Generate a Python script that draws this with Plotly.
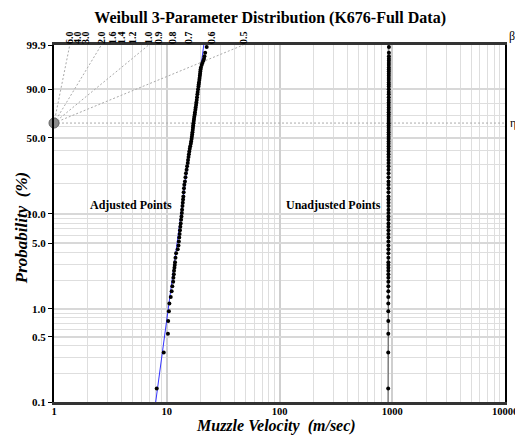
import numpy as np
import plotly.graph_objects as go

TITLE = "Weibull 3-Parameter Distribution (K676-Full Data)"

# Adjusted points (velocity minus location parameter) and their plotted probabilities (%)
ADJ_PROB = [0.14, 0.34, 0.54, 0.74, 0.94, 1.14, 1.34, 1.54, 1.74, 1.94, 2.14, 2.34, 2.54, 2.74,
            2.94, 3.14, 3.5, 3.9, 4.3, 4.7, 5.2, 5.7, 6.2, 6.8, 7.4, 8.0, 8.7, 9.4, 10.2, 11.0,
            12, 13, 14, 15, 16.5, 18, 19.5, 21, 23, 25, 27, 29, 31, 33, 35, 37, 39, 41, 43, 45,
            47, 49, 51, 53, 55, 57, 59, 61, 63, 65, 67, 69, 71, 73, 75, 77, 79, 81, 83, 85, 87,
            88.5, 90, 91.5, 92.5, 93.5, 94.5, 95.3, 96, 96.6, 97.2, 97.7, 98.1, 98.5, 98.8,
            99.06, 99.26, 99.46, 99.66, 99.86]
ADJ_VEL = [8.15, 9.4, 10.25, 10.3, 10.45, 10.55, 10.85, 11.05, 11.2, 11.4, 11.45, 11.55, 11.6,
           11.7, 11.78, 11.84, 11.95, 12.1, 12.5, 12.7, 12.8, 12.9, 13.0, 13.1, 13.2, 13.3, 13.4,
           13.5, 13.6, 13.68, 13.78, 13.87, 13.95, 14.03, 14.12, 14.22, 14.32, 14.5, 14.65, 14.8,
           15.0, 15.15, 15.35, 15.45, 15.6, 15.72, 15.85, 16.0, 16.15, 16.35, 16.45, 16.6, 16.7,
           16.8, 16.9, 17.0, 17.08, 17.15, 17.25, 17.35, 17.45, 17.55, 17.7, 17.8, 17.95, 18.05,
           18.2, 18.3, 18.45, 18.55, 18.7, 18.82, 18.95, 19.1, 19.2, 19.3, 19.45, 19.55, 19.65,
           19.75, 19.85, 19.95, 20.1, 20.4, 20.7, 21.1, 21.4, 21.6, 21.9, 22.6]
GAMMA = 912.0  # location parameter (m/sec)

# Fitted line end points
FIT_PROB = [0.1, 99.9]
FIT_VEL = [7.98, 21.3]

# Beta estimation scale (top axis)
BETA_TICKS = [6.0, 4.0, 3.0, 2.0, 1.6, 1.4, 1.2, 1.0, 0.9, 0.8, 0.7, 0.6, 0.5]
BETA_FAN = [6.0, 2.0, 1.0, 0.5]

X_TICKS = [1, 10, 100, 1000, 10000]
Y_MAJOR = [0.1, 0.5, 1.0, 5.0, 10.0, 50.0, 90.0, 99.9]
Y_MINOR = [0.2, 0.3, 0.4, 0.6, 0.7, 0.8, 0.9, 2, 3, 4, 6, 7, 8, 9, 20, 30, 40, 60, 70, 80]


def wscale(p):
    p = np.asarray(p, dtype=float) / 100.0
    return np.log(-np.log(1.0 - p))


SERIF = "Liberation Serif, Times New Roman, serif"
wtop = float(wscale(99.9))
wbot = float(wscale(0.1))

adj_vel = np.array(ADJ_VEL)
unadj_vel = adj_vel + GAMMA

fig = go.Figure()

# beta fan lines
for b in BETA_FAN:
    fig.add_trace(go.Scatter(x=[1, np.exp(wtop / b)], y=[0, wtop], mode="lines",
                             line=dict(color="#aaaaaa", width=1, dash="2px,2px"),
                             hoverinfo="skip", showlegend=False))
# eta line
fig.add_trace(go.Scatter(x=[1, 10000], y=[0, 0], mode="lines",
                         line=dict(color="#aaaaaa", width=1, dash="2px,2px"),
                         hoverinfo="skip", showlegend=False))

# fit lines
fig.add_trace(go.Scatter(x=FIT_VEL, y=wscale(FIT_PROB), mode="lines",
                         line=dict(color="#3333ff", width=1), showlegend=False))
fig.add_trace(go.Scatter(x=np.array(FIT_VEL) + GAMMA, y=wscale(FIT_PROB), mode="lines",
                         line=dict(color="#555555", width=1), showlegend=False))

# points
fig.add_trace(go.Scatter(x=adj_vel, y=wscale(ADJ_PROB), mode="markers",
                         marker=dict(color="black", size=4), showlegend=False))
fig.add_trace(go.Scatter(x=unadj_vel, y=wscale(ADJ_PROB), mode="markers",
                         marker=dict(color="black", size=4), showlegend=False))

# pivot
fig.add_trace(go.Scatter(x=[1], y=[0], mode="markers", cliponaxis=False,
                         marker=dict(color="#8c8c8c", size=10, line=dict(color="#666", width=1)),
                         showlegend=False))

# invisible trace for the top beta axis
fig.add_trace(go.Scatter(x=[1, 10000], y=[0, 0], xaxis="x2", mode="markers",
                         marker=dict(opacity=0), hoverinfo="skip", showlegend=False))

tickfont = dict(family=SERIF, size=11, color="black")

# the page body adds an 8px offset, so the figure is sized to fit the window
fig.update_layout(
    width=515, height=428,
    margin=dict(l=46, r=18, t=37, b=34, autoexpand=False),
    paper_bgcolor="white", plot_bgcolor="white",
    title=dict(text="<b>" + TITLE + "</b>", x=0.509, xanchor="center", y=0.977, yanchor="middle",
               font=dict(family=SERIF, size=16, color="black")),
    xaxis=dict(type="log", range=[0, 4], tickmode="array", tickvals=X_TICKS,
               ticktext=["<b>%d</b>" % v for v in X_TICKS],
               tickfont=dict(family=SERIF, size=10.5, color="black"),
               ticklabelstandoff=-2,
               showgrid=True, gridcolor="#cfcfcf", gridwidth=1.5,
               showline=True, linecolor="#333", linewidth=2.5, mirror=True,
               ticks="",
               minor=dict(tickmode="array",
                          tickvals=[m * 10 ** d for d in range(4) for m in range(2, 10)],
                          showgrid=True, gridcolor="#dedede", gridwidth=1, ticks=""),
               zeroline=False),
    xaxis2=dict(type="log", range=[0, 4], overlaying="x", side="top", anchor="y",
                tickmode="array", tickvals=[np.exp(wtop / b) for b in BETA_TICKS],
                ticktext=["<b>%.1f</b>" % b for b in BETA_TICKS], tickangle=-90,
                tickfont=dict(family=SERIF, size=10, color="black"),
                showgrid=False, ticks="", showline=False, zeroline=False),
    yaxis=dict(range=[wbot, wtop], tickmode="array", tickvals=wscale(Y_MAJOR),
               ticktext=["<b>%.1f</b>" % v for v in Y_MAJOR], tickfont=tickfont,
               showgrid=True, gridcolor="#d8d8d8", gridwidth=1.5,
               showline=True, linecolor="black", linewidth=2, mirror=True,
               ticks="outside", ticklen=4, tickcolor="black",
               minor=dict(tickmode="array", tickvals=wscale(Y_MINOR),
                          showgrid=True, gridcolor="#dedede", gridwidth=1, ticks=""),
               zeroline=False),
    annotations=[
        dict(text="<b>Adjusted Points</b>", x=np.log10(4.8), y=float(wscale(12.3)),
             xref="x", yref="y", showarrow=False,
             font=dict(family=SERIF, size=12, color="black")),
        dict(text="<b>Unadjusted Points</b>", x=np.log10(300), y=float(wscale(12.3)),
             xref="x", yref="y", showarrow=False,
             font=dict(family=SERIF, size=12, color="black")),
        dict(text="<b><i>Muzzle Velocity  (m/sec)</i></b>", x=0.492, y=-0.0686,
             xref="paper", yref="paper", showarrow=False, yanchor="middle",
             font=dict(family=SERIF, size=16, color="black")),
        dict(text="<b><i>Probability  (%)</i></b>", x=-0.073, y=0.487,
             xref="paper", yref="paper", showarrow=False, textangle=-90,
             xanchor="center", yanchor="middle",
             font=dict(family=SERIF, size=17, color="black")),
        dict(text="β", x=1.0, y=wtop, xref="paper", yref="y", xanchor="left", yanchor="bottom",
             xshift=2, showarrow=False, font=dict(family=SERIF, size=12, color="black")),
        dict(text="η", x=1.0, y=0, xref="paper", yref="y", xanchor="left", yanchor="middle",
             xshift=3, showarrow=False, font=dict(family=SERIF, size=12, color="black")),
    ],
)

fig.write_html("out.html")
